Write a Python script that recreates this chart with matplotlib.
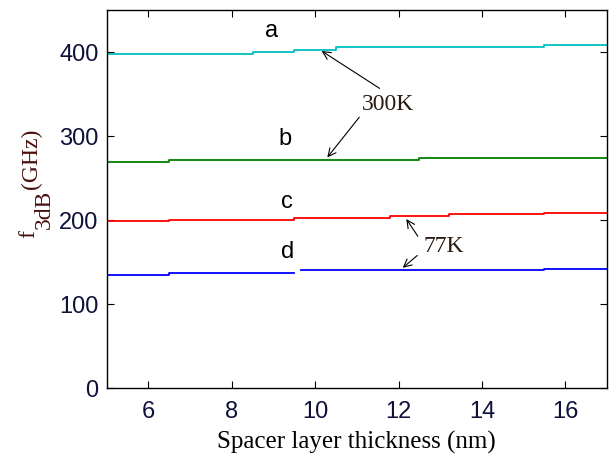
import numpy as np
from matplotlib import pyplot as plt

# step curves (thickness in nm, f3dB in GHz)
a_x = [5, 8.5, 9.5, 10.5, 15.5, 17]
a_y = [398, 400.5, 403, 405.5, 408, 408]
b_x = [5, 6.5, 12.5, 17]
b_y = [269, 271.5, 274, 274]
c_x = [5, 6.5, 9.5, 11.8, 13.2, 15.5, 17]
c_y = [198.4, 200.4, 202.4, 204.7, 206.7, 209, 209]
d_x = [5, 6.5, 9.5, 9.65, 15.5, 17]
d_y = [135.2, 137.5, np.nan, 140, 142.3, 142.3]

xticks = [6, 8, 10, 12, 14, 16]
yticks = [0, 100, 200, 300, 400]

W, H = 610, 455
fig = plt.figure(figsize=(W / 100, H / 100), dpi=100)
ax = fig.add_axes([0.175, 0.147, 0.82, 0.831])

ax.step(a_x, a_y, where="post", color="#00c0c0", lw=1.3)
ax.step(b_x, b_y, where="post", color="#008000", lw=1.3)
ax.step(c_x, c_y, where="post", color="#ff0000", lw=1.3)
ax.step(d_x, d_y, where="post", color="#0000ff", lw=1.3)

ax.set_xlim(5, 17)
ax.set_ylim(0, 450)
ax.set_xticks(xticks)
ax.set_yticks(yticks)
ax.tick_params(direction="in", top=True, right=True, length=5,
               labelsize=17, labelcolor="#10103a")
ax.tick_params(axis="x", pad=9)
ax.tick_params(axis="y", pad=6)
for lab in ax.get_xticklabels() + ax.get_yticklabels():
    lab.set_family("Liberation Sans")

for s in ax.spines.values():
    s.set_linewidth(1.0)

sans = dict(fontsize=17, family="Liberation Sans", ha="center", va="center")
ax.text(8.95, 425, "a", **sans)
ax.text(9.28, 296, "b", **sans)
ax.text(9.33, 221, "c", **sans)
ax.text(9.33, 162, "d", **sans)

arrow = dict(arrowstyle="->", lw=0.8, color="black", mutation_scale=14)
ax.annotate("", xy=(10.1, 403), xytext=(11.6, 355), arrowprops=arrow)
ax.annotate("", xy=(10.25, 272), xytext=(11.1, 325), arrowprops=arrow)
ax.text(11.12, 338, "300K", fontsize=17, family="Liberation Serif",
        ha="left", va="center", color="#2a1a10")

ax.annotate("", xy=(12.15, 204), xytext=(12.5, 178), arrowprops=arrow)
ax.annotate("", xy=(12.05, 141), xytext=(12.5, 160), arrowprops=arrow)
ax.text(12.6, 168, "77K", fontsize=17, family="Liberation Serif",
        ha="left", va="center", color="#2a1a10")

ax.set_xlabel("Spacer layer thickness (nm)", fontsize=18,
              family="Liberation Serif", labelpad=6)

# y label built from pieces so the subscript stays large, like the original
ylab = dict(rotation=90, rotation_mode="anchor", ha="left", va="baseline",
            family="Liberation Serif", color="#4a1010")
fig.text(34 / W, 1 - 238 / H, "f", fontsize=17, **ylab)
fig.text(50 / W, 1 - 229 / H, "3dB", fontsize=17, **ylab)
fig.text(37 / W, 1 - 189 / H, "(GHz)", fontsize=17, **ylab)

plt.savefig("out.png", dpi=100)
